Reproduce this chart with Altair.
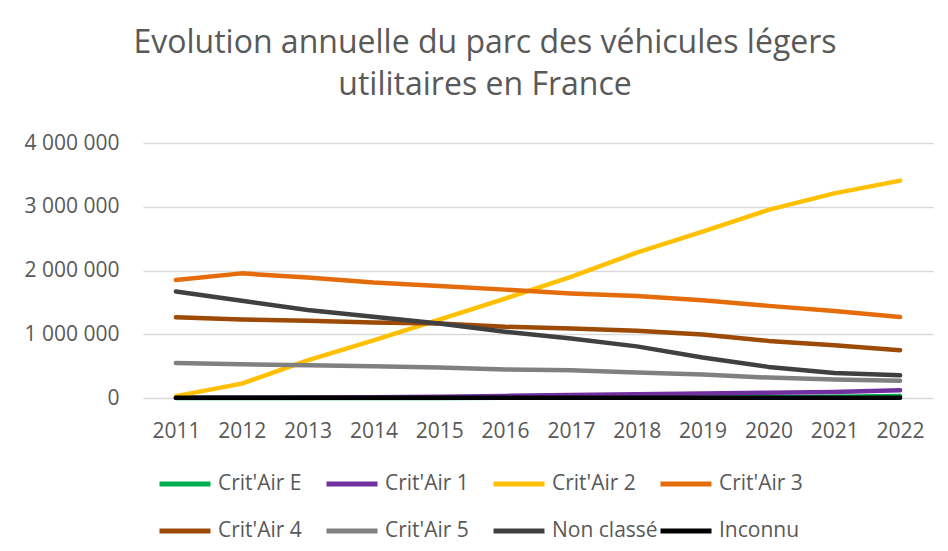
import altair as alt
import pandas as pd

years = [str(y) for y in range(2011, 2023)]
series = ["Crit'Air E", "Crit'Air 1", "Crit'Air 2", "Crit'Air 3",
          "Crit'Air 4", "Crit'Air 5", "Non classé", "Inconnu"]
colors = ["#00B050", "#7030A0", "#FFC000", "#E46C0A",
          "#9C4A06", "#808080", "#404040", "#000000"]

crit_e = [0, 0, 0, 0, 1000, 2000, 3000, 5000, 8000, 12000, 18000, 30000]
crit_1 = [2000, 4000, 7000, 12000, 20000, 33000, 48000, 58000, 70000, 82000, 96000, 120000]
crit_2 = [30000, 225000, 590000, 905000, 1230000, 1560000, 1900000, 2280000, 2610000, 2950000, 3210000, 3410000]
crit_3 = [1850000, 1955000, 1890000, 1810000, 1755000, 1700000, 1640000, 1600000, 1535000, 1445000, 1365000, 1270000]
crit_4 = [1265000, 1232000, 1210000, 1185000, 1168000, 1117000, 1090000, 1054000, 996000, 896000, 828000, 750000]
crit_5 = [550000, 530000, 514000, 498000, 477000, 446000, 435000, 400000, 367000, 320000, 290000, 270000]
non_classe = [1672000, 1526000, 1379000, 1274000, 1170000, 1040000, 933000, 810000, 634000, 488000, 393000, 356000]
inconnu = [2000, 2000, 2000, 2000, 2000, 2000, 2000, 2000, 2000, 2000, 2000, 2000]

values = [crit_e, crit_1, crit_2, crit_3, crit_4, crit_5, non_classe, inconnu]

rows = []
for si, (name, vals) in enumerate(zip(series, values)):
    for y, v in zip(years, vals):
        rows.append({"Année": y, "Série": name, "Valeur": v, "ord": si})
df = pd.DataFrame(rows)

FONT = "Open Sans"
GREY = "#595959"

chart = alt.Chart(df).mark_line(
    strokeWidth=4.5, strokeCap="round", strokeJoin="round"
).encode(
    x=alt.X("Année:O", title=None,
            scale=alt.Scale(type="point", padding=0.5),
            axis=alt.Axis(labelAngle=0, domain=False, ticks=False,
                          labelPadding=22, labelFontSize=21,
                          labelColor=GREY, labelFont=FONT, grid=False)),
    y=alt.Y("Valeur:Q", title=None,
            scale=alt.Scale(domain=[0, 4000000], nice=False),
            axis=alt.Axis(values=[0, 1000000, 2000000, 3000000, 4000000],
                          domain=False, ticks=False, labelPadding=24,
                          labelFontSize=21, labelColor=GREY, labelFont=FONT,
                          gridColor="#D9D9D9", gridWidth=1.3,
                          labelExpr="replace(format(datum.value, ','), regexp(',', 'g'), ' ')")),
    color=alt.Color("Série:N",
                    scale=alt.Scale(domain=series, range=colors),
                    legend=alt.Legend(title=None, orient="none",
                                      direction="horizontal",
                                      legendX=14, legendY=313,
                                      columns=4, gridAlign="all",
                                      symbolType="stroke", symbolSize=2601,
                                      symbolStrokeWidth=5,
                                      labelFontSize=21, labelColor=GREY,
                                      labelFont=FONT, labelOffset=5,
                                      columnPadding=-8, rowPadding=9,
                                      labelLimit=300)),
    order=alt.Order("ord:Q"),
    detail="Série:N",
).properties(
    width=790,
    height=255,
    title=alt.TitleParams(
        text=["Evolution annuelle du parc des véhicules légers",
              "utilitaires en France"],
        font=FONT, fontSize=32, fontWeight="normal", color=GREY,
        anchor="middle", dx=-53, lineHeight=42, offset=30,
    ),
    autosize=alt.AutoSizeParams(type="none"),
    padding={"left": 135, "top": 135, "right": 7, "bottom": 145},
).configure(background="white").configure_view(stroke=None)

chart.save("out.html", embed_options={"renderer": "svg", "actions": False})
